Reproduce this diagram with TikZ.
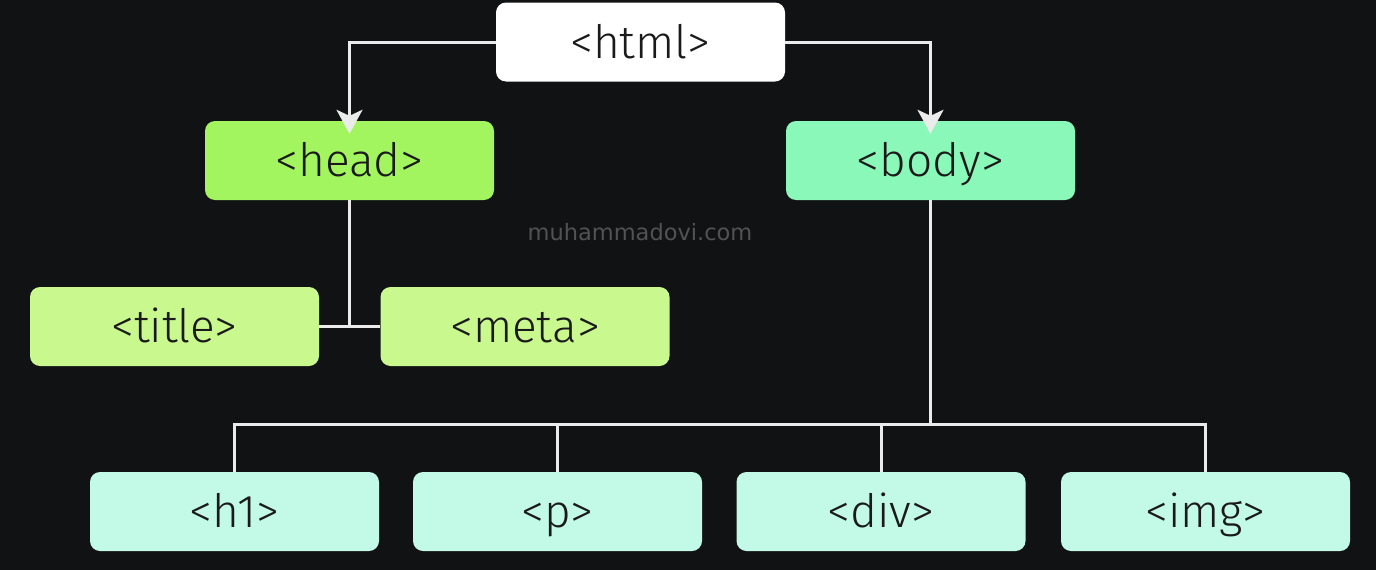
\documentclass[tikz,border=0pt]{standalone}
\usepackage{fontspec}
\setmainfont{Fira Sans Light}
\newfontfamily\wmfont{DejaVu Sans}
\usetikzlibrary{arrows.meta}
\definecolor{bg}{HTML}{111214}
\definecolor{headc}{HTML}{A3F560}
\definecolor{bodyc}{HTML}{89F8B8}
\definecolor{leafa}{HTML}{C8F88E}
\definecolor{leafb}{HTML}{C3F9E7}
\definecolor{txt}{HTML}{1A1A1A}
\definecolor{wm}{HTML}{505254}
\begin{document}
\begin{tikzpicture}[x=1pt,y=-1pt,
  box/.style={rounded corners=10pt,minimum width=289pt,minimum height=79pt,inner sep=0pt,
    text height=32pt,text depth=0pt,
    text=txt,font=\fontsize{46}{50}\selectfont,anchor=center},
  conn/.style={draw=white!92!black,line width=3pt},
  arr/.style={conn,-{Stealth[length=24pt,width=26pt,inset=6pt]}}]
\fill[bg] (0,0) rectangle (1376,570);
\useasboundingbox (0,0) rectangle (1376,570);
\node[box,fill=white] (html) at (640.5,42) {<html>};
\node[box,fill=headc] (head) at (349.5,160.5) {<head>};
\node[box,fill=bodyc] (body) at (930.5,160.5) {<body>};
\node[box,fill=leafa] (title) at (174.5,326.5) {<title>};
\node[box,fill=leafa] (meta) at (525,326.5) {<meta>};
\node[box,fill=leafb] (h1) at (234.5,511.5) {<h1>};
\node[box,fill=leafb] (p) at (557.5,511.5) {<p>};
\node[box,fill=leafb] (div) at (881,511.5) {<div>};
\node[box,fill=leafb] (img) at (1205.5,511.5) {<img>};
\node[text=wm,font=\wmfont\fontsize{22.5}{26}\selectfont] (wmk) at (640,232) {muhammadovi.com};
% html to head/body
\draw[arr] (html.west) -| ([yshift=-13pt]head.north);
\draw[arr] (html.east) -| ([yshift=-13pt]body.north);
% head children
\coordinate (hj) at (head.south |- title.east);
\draw[conn] (head.south) -- (hj);
\draw[conn] (title.east) -- (meta.west);
% body children
\coordinate (bj) at (930.5,424);
\draw[conn] (body.south) -- (bj);
\draw[conn] (h1.north) -- (h1.north |- bj) -- (img.north |- bj) -- (img.north);
\draw[conn] (p.north) -- (p.north |- bj);
\draw[conn] (div.north) -- (div.north |- bj);
\end{tikzpicture}
\end{document}
